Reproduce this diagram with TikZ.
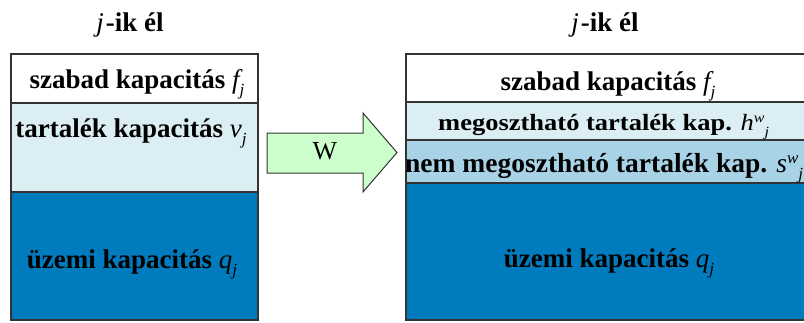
\documentclass[tikz,border=0pt]{standalone}
\usepackage{fontspec}
\setmainfont{Liberation Serif}[BoldFont={Liberation Serif Bold}, ItalicFont={Liberation Serif Italic}, BoldItalicFont={Liberation Serif Bold Italic}]
\definecolor{lblue}{HTML}{DAEEF3}
\definecolor{mblue}{HTML}{A8D3E6}
\definecolor{dblue}{HTML}{007CBE}
\definecolor{lgreen}{HTML}{CCFFCC}
\definecolor{edgec}{HTML}{333333}
\newcommand\mvar[1]{{\mdseries\itshape #1}}
\newcommand\bsub[1]{\raisebox{-7pt}{\mdseries\itshape\fontsize{17}{17}\selectfont #1}}
\newcommand\bsup[1]{\raisebox{9pt}{\mdseries\itshape\fontsize{17}{17}\selectfont #1}}
\begin{document}
\begin{tikzpicture}[x=1pt,y=-1pt,
  sec/.style={draw=edgec, line width=1.2pt},
  lab/.style={anchor=base, inner sep=0pt, font=\fontsize{27}{30}\selectfont\bfseries},
  wlab/.style={anchor=base west, inner sep=0pt, font=\fontsize{27.5}{30}\selectfont\bfseries}]
\useasboundingbox (0,0) rectangle (804,322);
\clip (0,0) rectangle (804,322);
% left box
\fill[white] (11,54) rectangle (258,103);
\fill[lblue] (11,103) rectangle (258,192);
\fill[dblue] (11,192) rectangle (258,320);
\draw[sec] (11,54) rectangle (258,320);
\draw[sec] (11,103) -- (258,103);
\draw[sec] (11,192) -- (258,192);
% right box
\fill[white] (406,54) rectangle (812,102);
\fill[lblue] (406,102) rectangle (812,140);
\fill[mblue] (406,140) rectangle (812,183);
\fill[dblue] (406,183) rectangle (812,320);
\draw[sec] (406,54) rectangle (812,320);
\draw[sec] (406,102) -- (812,102);
\draw[sec] (406,140) -- (812,140);
\draw[sec] (406,183) -- (812,183);
% arrow
\draw[edgec, line width=1pt, fill=lgreen, line join=miter]
  (267,133) -- (363,133) -- (363,113) -- (397,152.5) -- (363,192) -- (363,173) -- (267,173) -- cycle;
\node[anchor=base, inner sep=0pt, font=\fontsize{26}{28}\selectfont] (W) at (325,159) {W};
% titles
\node[lab] (t1) at (130,31) {\mvar{j}\kern2pt-ik él};
\node[lab] (t2) at (605,31) {\mvar{j}\kern2pt-ik él};
% left labels
\node[lab] (l1) at (137,88) {szabad kapacitás \mvar{f}\bsub{j}};
\node[lab] (l2) at (131,137) {tartalék kapacitás \mvar{v}\bsub{j}};
\node[lab] (l3) at (132,268) {üzemi kapacitás \mvar{q}\bsub{j}};
% right labels
\node[lab] (r1) at (608,90) {szabad kapacitás \mvar{f}\bsub{j}};
\node[anchor=base west, inner sep=0pt, font=\fontsize{26.5}{28}\selectfont\bfseries] (r2) at (438,130)
  {\scalebox{1}[0.88]{megosztható tartalék kap. \mvar{h}\raisebox{8pt}{\mdseries\itshape\fontsize{16}{16}\selectfont w}\raisebox{-7pt}{\mdseries\itshape\fontsize{16}{16}\selectfont j}}};
\node[wlab] (r3) at (405,172) {nem megosztható tartalék kap. \mvar{s}\bsup{w}\bsub{j}};
\node[lab] (r4) at (609,267) {üzemi kapacitás \mvar{q}\bsub{j}};
\end{tikzpicture}
\end{document}
